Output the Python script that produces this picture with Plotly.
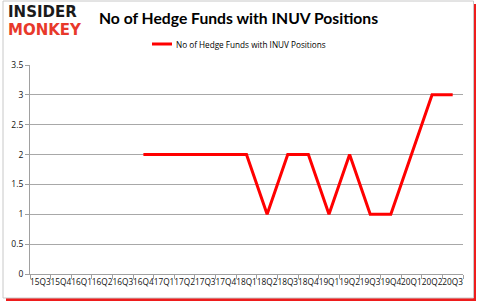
import plotly.graph_objects as go

quarters = ["15Q3","15Q4","16Q1","16Q2","16Q3","16Q4","17Q1","17Q2","17Q3","17Q4",
            "18Q1","18Q2","18Q3","18Q4","19Q1","19Q2","19Q3","19Q4","20Q1","20Q2","20Q3"]
funds = [None, None, None, None, None, 2, 2, 2, 2, 2,
         2, 1, 2, 2, 1, 2, 1, 1, 2, 3, 3]
series_name = "No of Hedge Funds with INUV Positions"

W, H = 479, 305
L, R, T, B = 30, 16, 65, 31
pw, ph = W - L - R, H - T - B

def px(x):
    return (x - L) / pw

def py(y):
    return (H - B - y) / ph

fig = go.Figure()
fig.add_trace(go.Scatter(x=quarters, y=funds, mode="lines", name=series_name,
                         line=dict(color="#ff0000", width=3), connectgaps=False))

shapes = [
    dict(type="rect", xref="paper", yref="paper", x0=px(6), x1=px(476), y0=py(4), y1=py(301),
         fillcolor="#ee1c1c", line=dict(width=0), layer="below"),
    dict(type="rect", xref="paper", yref="paper", x0=px(3), x1=px(473.5), y0=py(1), y1=py(298),
         fillcolor="white", line=dict(color="#c8c8c8", width=1), layer="below"),
    dict(type="line", xref="paper", yref="paper", x0=px(152), x1=px(172), y0=py(44), y1=py(44),
         line=dict(color="#ff0000", width=3)),
]

annotations = [
    dict(text="<b>No of Hedge Funds with INUV Positions</b>", xref="paper", yref="paper",
         x=px(238.5), y=py(18), showarrow=False, xanchor="center", yanchor="middle",
         font=dict(family="Lato", size=15.7, color="black")),
    dict(text=series_name, xref="paper", yref="paper", x=px(174), y=py(44), showarrow=False,
         xanchor="left", yanchor="middle", font=dict(family="Open Sans", size=8.2, color="black")),
    dict(text="<b>INSIDER</b>", xref="paper", yref="paper", x=px(6), y=py(11.5), showarrow=False,
         xanchor="left", yanchor="middle",
         font=dict(family="DejaVu Sans", size=15, color="#1a1a1a")),
    dict(text="<b>MONKEY</b>", xref="paper", yref="paper", x=px(6), y=py(29.5), showarrow=False,
         xanchor="left", yanchor="middle",
         font=dict(family="DejaVu Sans", size=15, color="#e8392b")),
]

fig.update_layout(
    width=W, height=H,
    margin=dict(l=L, r=R, t=T, b=B),
    paper_bgcolor="white", plot_bgcolor="white",
    showlegend=False,
    shapes=shapes, annotations=annotations,
    font=dict(family="Open Sans", size=8.5, color="#111"),
    xaxis=dict(type="category", range=[-0.5, 20.5], showgrid=False, showline=True,
               linecolor="#a0a0a0", linewidth=1, ticks="outside", tickson="boundaries",
               ticklen=4, tickcolor="#a0a0a0", tickangle=0,
               tickfont=dict(family="Open Sans", size=8.3, color="#111")),
    yaxis=dict(range=[0, 3.5], dtick=0.5, showgrid=True, gridcolor="#a8a8a8", gridwidth=1,
               showline=True, linecolor="#a0a0a0", ticks="outside", ticklen=4,
               tickcolor="#a0a0a0", zeroline=False,
               tickfont=dict(family="Open Sans", size=8.5, color="#111")),
)

fig.write_html("out.html")
